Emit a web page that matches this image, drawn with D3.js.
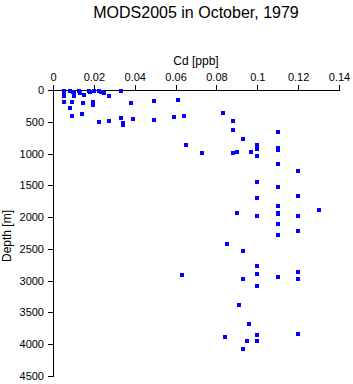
<!DOCTYPE html>
<html><head><meta charset="utf-8">
<script src="https://cdn.jsdelivr.net/npm/d3@7"></script>
<style>body{margin:0;background:#fff;}svg{display:block;font-family:"Liberation Sans",Arial,sans-serif;}</style>
</head><body>
<svg id="c" width="353" height="384"></svg>
<script>
const title = "MODS2005 in October, 1979";
const xLabel = "Cd [ppb]";
const yLabel = "Depth [m]";
const xTicks = [0, 0.02, 0.04, 0.06, 0.08, 0.1, 0.12, 0.14];
const yTicks = [0, 500, 1000, 1500, 2000, 2500, 3000, 3500, 4000, 4500];
const cd = [
 0.0056,0.0056,0.0056,0.0084,0.0097,0.0105,0.0105,0.0126,0.0133,0.0154,0.0175,0.0179,0.0203,0.0225,0.0236,0.0252,0.0274,
 0.0056,0.0094,0.0146,0.0195,0.0195,0.0084,0.0094,0.0143,0.0225,0.0274,0.0334,0.038,0.0494,0.061,
 0.0334,0.0342,0.0342,0.0393,0.0494,0.059,0.059,0.064,0.083,0.088,0.088,0.110,0.093,0.065,0.100,0.110,0.110,
 0.073,0.088,0.090,0.097,0.100,0.100,0.100,0.110,0.120,0.100,0.110,0.120,0.100,0.110,0.130,0.110,0.110,0.090,0.100,0.120,0.110,
 0.120,0.110,0.085,0.093,0.100,0.063,0.100,0.093,0.110,0.120,0.120,0.100,0.091,0.096,0.084,0.100,0.095,0.100,0.120,0.093
];
const depth = [
 16,52,90,16,31,52,94,16,42,79,16,36,16,16,27,42,90,
 194,194,209,184,236,288,409,378,499,483,16,205,178,162,
 440,519,546,456,472,430,430,409,367,493,624,666,766,860,871,907,944,
 996,996,975,981,928,1044,1452,1170,1280,1704,1531,1673,1987,1830,1893,1930,1956,1940,1987,1987,2113,
 2223,2286,2428,2538,2774,2911,2900,2968,2947,2868,2968,3089,3388,3682,3886,3860,3954,3954,3844,4070
];
const data = cd.map((v,i)=>({v, d: depth[i]}));

const svg = d3.select("#c");
const x = d3.scaleLinear().domain([0, 0.14]).range([53, 339]);
const y = d3.scaleLinear().domain([0, 4500]).range([90, 376]);

const xAxis = svg.append("g").attr("transform","translate(0,90)")
  .call(d3.axisTop(x).tickValues(xTicks).tickFormat(d=>d3.format("")(+d.toFixed(2))).tickSizeOuter(0).tickSize(5).tickPadding(4));
const yAxis = svg.append("g").attr("transform","translate(53,0)")
  .call(d3.axisLeft(y).tickValues(yTicks).tickFormat(d=>String(d)).tickSizeOuter(0).tickSize(5).tickPadding(4));
[xAxis,yAxis].forEach(g=>{
  g.selectAll("text").attr("font-size",11).attr("fill","#000").attr("font-family","'Liberation Sans',Arial,sans-serif");
  g.selectAll("line,path").attr("stroke","#000").attr("shape-rendering","crispEdges");
});

svg.append("g").selectAll("rect").data(data).join("rect")
  .attr("x", d=>Math.round(x(d.v))-2).attr("y", d=>Math.round(y(d.d))-2)
  .attr("width",4).attr("height",4).attr("fill","#0000ff").attr("shape-rendering","crispEdges");

svg.append("text").attr("x",196).attr("y",18).attr("text-anchor","middle").attr("font-size",16).text(title);
svg.append("text").attr("x",196).attr("y",65).attr("text-anchor","middle").attr("font-size",12).text(xLabel);
svg.append("text").attr("transform","translate(11,236) rotate(-90)").attr("text-anchor","middle").attr("font-size",12).text(yLabel);
</script>
</body></html>
